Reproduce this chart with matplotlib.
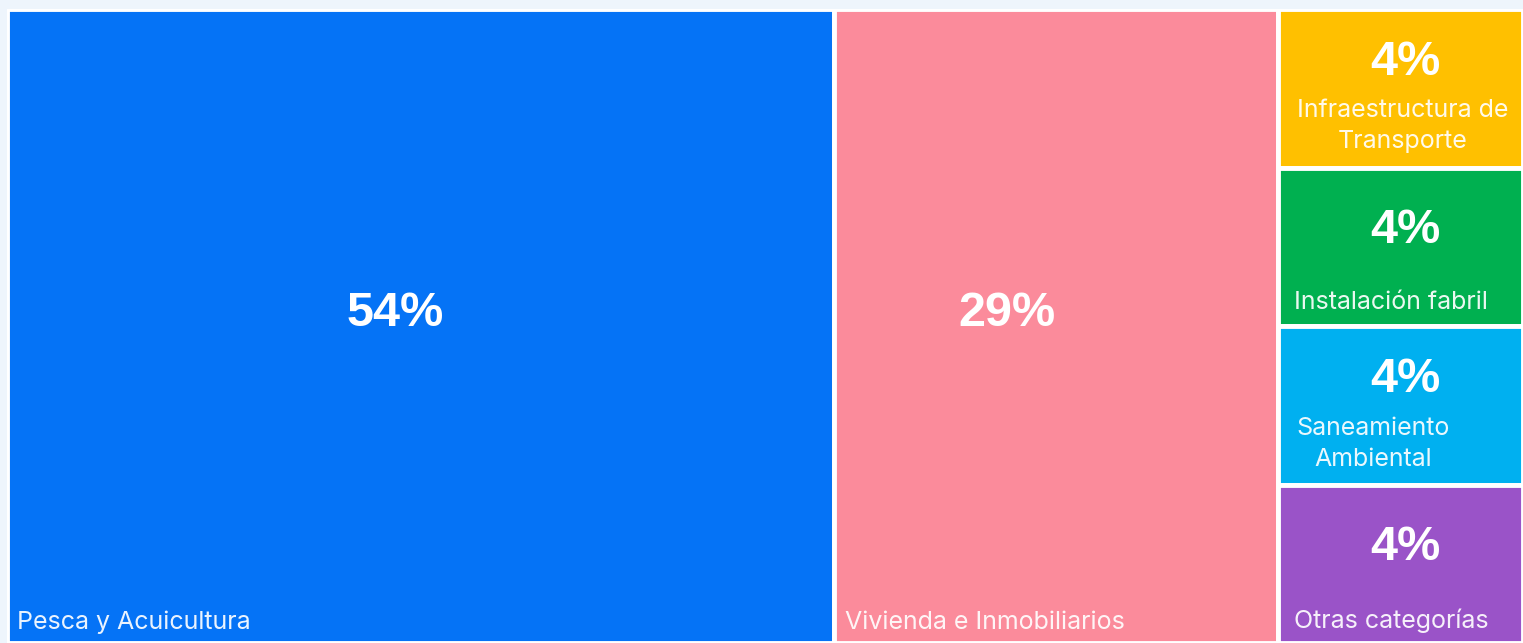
import matplotlib.pyplot as plt
from matplotlib.patches import Rectangle

categories = ['Pesca y Acuicultura', 'Vivienda e Inmobiliarios',
              'Infraestructura de\nTransporte', 'Instalación fabril',
              'Saneamiento\nAmbiental', 'Otras categorías']
values = [54, 29, 4, 4, 4, 4]
colors = ['#0573f6', '#fb8b9b', '#ffc000', '#00b050', '#00b0f0', '#9a53c8']

# label placement inside each tile (fractions of tile width/height)
pct_pos = [(0.47, 0.48), (0.39, 0.48), (0.52, 0.34), (0.52, 0.40), (0.52, 0.34), (0.52, 0.40)]
name_pos = [(0.012, 0.967, 'left'), (0.025, 0.967, 'left'), (0.51, 0.737, 'center'),
            (0.065, 0.85, 'left'), (0.39, 0.742, 'center'), (0.065, 0.86, 'left')]


def layout(vals):
    # first two tiles as full-height columns, the rest stacked in the last column
    total = sum(vals)
    rects = []
    x = 0
    for v in vals[:2]:
        w = v / total
        rects.append((x, 0, w, 1))
        x += w
    rest = vals[2:]
    w = sum(rest) / total
    y = 0
    for v in rest:
        h = v / sum(rest)
        rects.append((x, y, w, h))
        y += h
    return rects


fig = plt.figure(figsize=(15.23, 6.43), dpi=100)
fig.patch.set_facecolor('#eef5fc')
ax = fig.add_axes([7 / 1523, 0, 1 - 7 / 1523, 1 - 9 / 643])
ax.set_xlim(0, 1)
ax.set_ylim(1, 0)
ax.axis('off')

plt.rcParams['font.family'] = ['Inter', 'DejaVu Sans']

for i, (x, y, w, h) in enumerate(layout(values)):
    ax.add_patch(Rectangle((x, y), w, h, facecolor=colors[i], edgecolor='white', linewidth=3.5))
    px, py = pct_pos[i]
    ax.text(x + px * w, y + py * h, f'{values[i]}%', color='white', fontweight='bold',
            fontsize=35, ha='center', va='center', family=['Liberation Sans', 'DejaVu Sans'])
    nx, ny, al = name_pos[i]
    ax.text(x + nx * w, y + ny * h, categories[i], color='white', alpha=0.92,
            fontsize=18, ha=al, va='center', linespacing=1.45)

fig.savefig('out.png', dpi=100, facecolor=fig.get_facecolor())
